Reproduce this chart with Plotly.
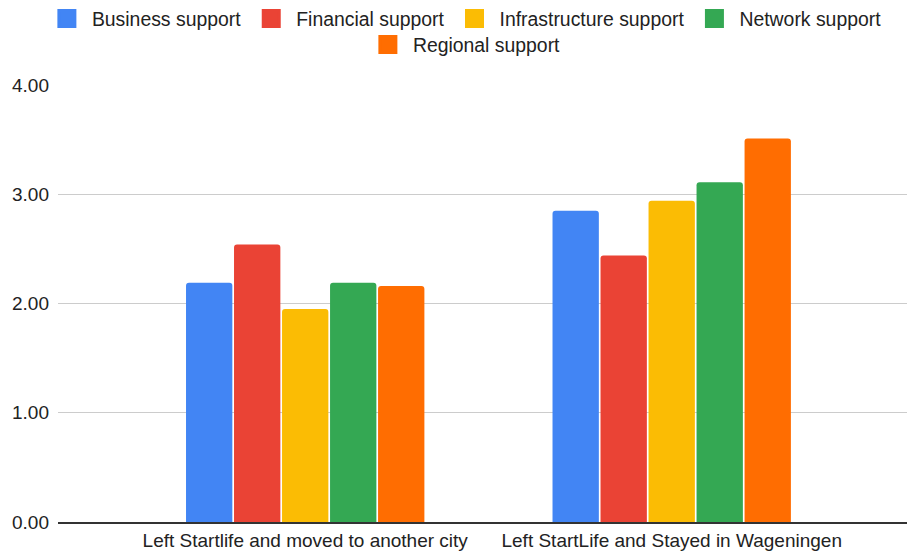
import plotly.graph_objects as go

# Survey averages per support type, split by where founders went after StartLife
categories = ["Left Startlife and moved to another city", "Left StartLife and Stayed in Wageningen"]
series_names = ["Business support", "Financial support", "Infrastructure support",
                "Network support", "Regional support"]
business = [2.19, 2.85]
financial = [2.54, 2.44]
infrastructure = [1.95, 2.94]
network = [2.19, 3.11]
regional = [2.16, 3.51]
y_ticks = [0, 1, 2, 3, 4]

series_values = [business, financial, infrastructure, network, regional]
colors = ["#4285F4", "#EA4335", "#FBBC04", "#34A853", "#FF6D01"]
legend_ids = ["legend", "legend", "legend", "legend", "legend2"]

FONT = "Liberation Sans, Arial, sans-serif"
TEXT = "#222222"

fig = go.Figure()

for name, vals, col in zip(series_names, series_values, colors):
    fig.add_trace(go.Bar(
        x=categories, y=vals, name=name,
        marker=dict(color=col, line=dict(width=0)),
        showlegend=False, hoverinfo="x+y+name",
    ))

# Legend entries with larger square swatches
for name, col, lg in zip(series_names, colors, legend_ids):
    fig.add_trace(go.Scatter(
        x=[None], y=[None], mode="markers", name=name,
        marker=dict(symbol="square", size=16, color=col,
                    line=dict(color=col, width=3)),
        legend=lg, showlegend=True,
    ))

legend_common = dict(
    orientation="h", xref="container", yref="container",
    xanchor="center", yanchor="middle",
    font=dict(family=FONT, size=19.4, color=TEXT),
    itemwidth=40, bgcolor="rgba(0,0,0,0)", borderwidth=0,
)

fig.update_layout(
    width=907, height=552,
    margin=dict(l=58, r=0, t=85, b=30),
    paper_bgcolor="white", plot_bgcolor="white",
    barmode="group", bargap=0.345, bargroupgap=0.035,
    barcornerradius=3,
    font=dict(family=FONT, size=19, color=TEXT),
    legend=dict(x=0.512, y=1 - 19 / 552, **legend_common),
    legend2=dict(x=0.512, y=1 - 45 / 552, **legend_common),
    xaxis=dict(
        type="category", range=[-0.6745, 1.642],
        showgrid=False, showline=True, linecolor="#333333", linewidth=1.5,
        ticks="", tickfont=dict(family=FONT, size=19, color=TEXT),
        fixedrange=True,
    ),
    yaxis=dict(
        range=[0, 4], tickvals=y_ticks, tickformat=".2f",
        showgrid=True, gridcolor="#cccccc", gridwidth=1,
        zeroline=False, showline=False, ticks="",
        ticklabelstandoff=8,
        tickfont=dict(family=FONT, size=19, color=TEXT),
        fixedrange=True,
    ),
)

fig.write_html("out.html")
